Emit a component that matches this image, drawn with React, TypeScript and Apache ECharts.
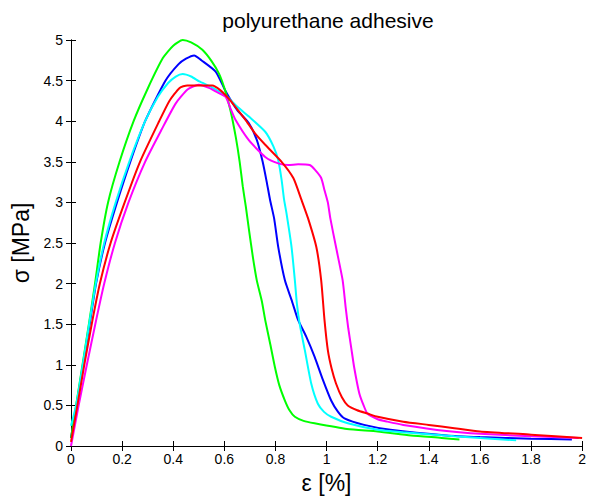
import React, { useEffect, useRef } from "react";
import * as echarts from "echarts";

const titleText = "polyurethane adhesive";
const xName = "ε [%]";
const yName = "σ [MPa]";

const greenData: [number, number][] = [
  [0, 0.1], [0.02, 0.5], [0.045, 1.0], [0.07, 1.5], [0.094, 2.0], [0.116, 2.5], [0.145, 3.0],
  [0.19, 3.5], [0.245, 4.0], [0.3, 4.4], [0.36, 4.78], [0.4, 4.93], [0.437, 5.0], [0.47, 4.97],
  [0.514, 4.88], [0.55, 4.74], [0.58, 4.58], [0.604, 4.37], [0.625, 4.12], [0.645, 3.8], [0.66, 3.5],
  [0.672, 3.2], [0.684, 2.95], [0.697, 2.65], [0.712, 2.32], [0.727, 2.04], [0.747, 1.78], [0.76, 1.55],
  [0.78, 1.25], [0.798, 0.97], [0.815, 0.75], [0.837, 0.56], [0.855, 0.44], [0.876, 0.36], [0.91, 0.31],
  [0.953, 0.28], [1.08, 0.21], [1.2, 0.18], [1.33, 0.13], [1.45, 0.1], [1.52, 0.08],
];

const blueData: [number, number][] = [
  [0, 0.1], [0.022, 0.5], [0.047, 1.0], [0.073, 1.5], [0.098, 2.0], [0.133, 2.5], [0.18, 3.0],
  [0.232, 3.5], [0.29, 4.0], [0.37, 4.5], [0.42, 4.7], [0.45, 4.77], [0.482, 4.81], [0.51, 4.75],
  [0.566, 4.61], [0.605, 4.37], [0.65, 4.14], [0.695, 3.98], [0.727, 3.77], [0.75, 3.5], [0.766, 3.25],
  [0.779, 3.03], [0.795, 2.8], [0.811, 2.45], [0.837, 2.04], [0.863, 1.8], [0.889, 1.55], [0.92, 1.35],
  [0.953, 1.1], [0.985, 0.82], [1.018, 0.56], [1.045, 0.42], [1.07, 0.34], [1.147, 0.26], [1.25, 0.2],
  [1.47, 0.13], [1.6, 0.11], [1.8, 0.09], [1.96, 0.08],
];

const cyanData: [number, number][] = [
  [0, 0.25], [0.02, 0.5], [0.046, 1.0], [0.071, 1.5], [0.097, 2.0], [0.13, 2.5], [0.175, 3.0],
  [0.228, 3.5], [0.29, 4.0], [0.34, 4.3], [0.38, 4.47], [0.41, 4.55], [0.437, 4.58], [0.47, 4.55],
  [0.502, 4.49], [0.55, 4.42], [0.611, 4.3], [0.65, 4.18], [0.695, 4.06], [0.76, 3.87], [0.792, 3.69],
  [0.811, 3.52], [0.824, 3.28], [0.834, 3.03], [0.843, 2.87], [0.863, 2.45], [0.876, 2.04], [0.884, 1.75],
  [0.895, 1.5], [0.915, 1.18], [0.94, 0.77], [0.966, 0.52], [0.99, 0.42], [1.018, 0.36], [1.083, 0.28],
  [1.2, 0.2], [1.3, 0.17], [1.5, 0.12], [1.742, 0.07],
];

const redData: [number, number][] = [
  [0, 0.05], [0.025, 0.5], [0.052, 1.0], [0.081, 1.5], [0.113, 2.0], [0.155, 2.5], [0.21, 3.0],
  [0.27, 3.5], [0.345, 4.0], [0.385, 4.25], [0.425, 4.41], [0.455, 4.44], [0.5, 4.44], [0.553, 4.44],
  [0.585, 4.38], [0.617, 4.28], [0.65, 4.15], [0.682, 4.02], [0.72, 3.85], [0.76, 3.71], [0.824, 3.5],
  [0.87, 3.3], [0.902, 3.03], [0.928, 2.8], [0.96, 2.45], [0.979, 2.04], [0.992, 1.55], [1.005, 1.18],
  [1.02, 0.95], [1.037, 0.77], [1.06, 0.6], [1.083, 0.5], [1.12, 0.44], [1.16, 0.4], [1.2, 0.36],
  [1.3, 0.3], [1.4, 0.26], [1.5, 0.22], [1.6, 0.18], [1.8, 0.14], [2.0, 0.1],
];

const magentaData: [number, number][] = [
  [0, 0.0], [0.03, 0.5], [0.062, 1.0], [0.095, 1.5], [0.13, 2.0], [0.172, 2.5], [0.225, 3.0],
  [0.29, 3.5], [0.355, 3.9], [0.41, 4.22], [0.456, 4.39], [0.5, 4.45], [0.54, 4.41], [0.57, 4.36],
  [0.605, 4.3], [0.625, 4.15], [0.643, 4.02], [0.695, 3.77], [0.76, 3.56], [0.811, 3.48], [0.85, 3.46],
  [0.889, 3.47], [0.934, 3.46], [0.955, 3.4], [0.979, 3.3], [0.992, 3.15], [1.005, 3.0], [1.015, 2.8],
  [1.037, 2.45], [1.063, 2.04], [1.075, 1.7], [1.085, 1.45], [1.097, 1.2], [1.108, 0.97], [1.128, 0.65],
  [1.145, 0.5], [1.16, 0.4], [1.2, 0.33], [1.238, 0.3], [1.3, 0.26], [1.47, 0.185], [1.6, 0.15],
  [1.8, 0.12], [1.987, 0.1],
];

const seriesList = [
  { name: "blue", color: "#0000ff", data: blueData },
  { name: "green", color: "#00ff00", data: greenData },
  { name: "cyan", color: "#00ffff", data: cyanData },
  { name: "magenta", color: "#ff00ff", data: magentaData },
  { name: "red", color: "#ff0000", data: redData },
];

const FONT = "Liberation Sans, Arial, sans-serif";

export default function App() {
  const ref = useRef<HTMLDivElement>(null);
  useEffect(() => {
    if (!ref.current) return;
    const chart = echarts.init(ref.current, null, { renderer: "svg" });
    const axisLine = { show: true, lineStyle: { color: "#000", width: 1 } };
    const axisTick = { show: true, inside: true, length: 5, lineStyle: { color: "#000" } };
    chart.setOption({
      animation: false,
      backgroundColor: "#fff",
      title: {
        text: titleText,
        left: 323,
        textAlign: "center",
        top: 5,
        textStyle: { fontFamily: FONT, fontSize: 21, fontWeight: "normal", color: "#000" },
      },
      grid: { left: 71, right: 2, top: 40, bottom: 54, containLabel: false },
      xAxis: [
        {
          type: "value", min: 0, max: 2, interval: 0.2, position: "bottom",
          name: xName, nameLocation: "middle", nameGap: 25,
          nameTextStyle: { fontFamily: FONT, fontSize: 23, color: "#000" },
          axisLine, axisTick, splitLine: { show: false },
          axisLabel: { fontFamily: FONT, fontSize: 14, color: "#000", margin: 6 },
        },
        {
          type: "value", min: 0, max: 2, interval: 0.2, position: "top",
          axisLine, axisTick, splitLine: { show: false }, axisLabel: { show: false },
        },
      ],
      yAxis: [
        {
          type: "value", min: 0, max: 5, interval: 0.5, position: "left",
          name: yName, nameLocation: "middle", nameGap: 37, nameRotate: 90,
          nameTextStyle: { fontFamily: FONT, fontSize: 23, color: "#000" },
          axisLine, axisTick, splitLine: { show: false },
          axisLabel: { fontFamily: FONT, fontSize: 14, color: "#000", margin: 8 },
        },
        {
          type: "value", min: 0, max: 5, interval: 0.5, position: "right",
          axisLine, axisTick, splitLine: { show: false }, axisLabel: { show: false },
        },
      ],
      series: seriesList.map((s) => ({
        name: s.name,
        type: "line",
        data: s.data,
        showSymbol: false,
        smooth: 0.2,
        lineStyle: { color: s.color, width: 2 },
        itemStyle: { color: s.color },
        xAxisIndex: 0,
        yAxisIndex: 0,
      })),
    });
    return () => chart.dispose();
  }, []);
  return <div ref={ref} style={{ width: 589, height: 500, position: "absolute", left: 0, top: 0 }} />;
}
